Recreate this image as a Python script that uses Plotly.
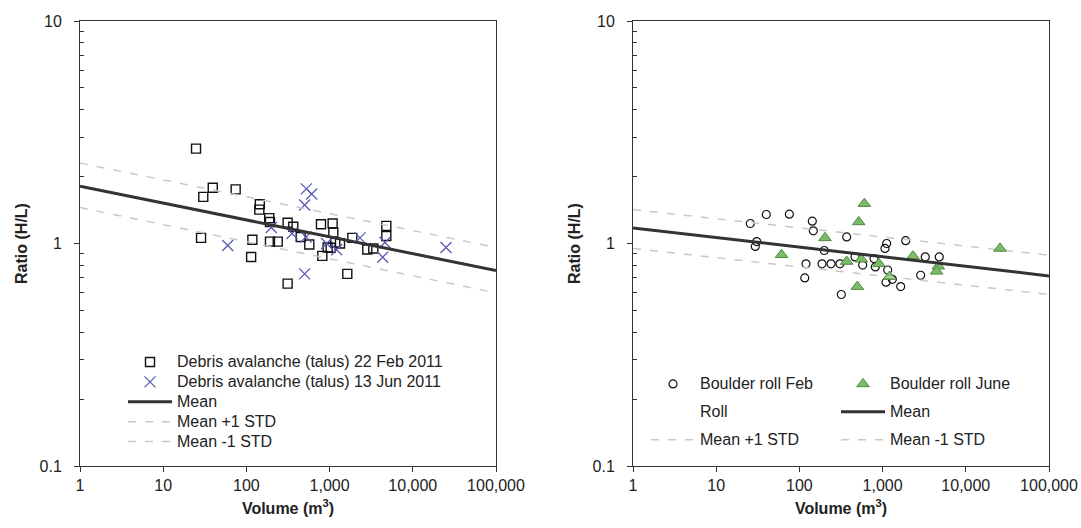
import plotly.graph_objects as go

# ---- Debris avalanche (talus) data ----
feb_vol = [24.8, 39.4, 30.3, 74.3, 145, 143, 188, 192, 28.5, 118, 192, 238, 114, 313, 366,
           449, 570, 313, 788, 1088, 1108, 818, 948, 1030, 1171, 1334, 1876, 1632, 2838,
           3351, 4806, 4806]
feb_ratio = [2.67, 1.78, 1.62, 1.75, 1.50, 1.42, 1.30, 1.25, 1.06, 1.04, 1.02, 1.02, 0.87,
             1.24, 1.19, 1.07, 0.99, 0.66, 1.22, 1.23, 1.12, 0.88, 0.96, 0.957, 1.01, 1.0,
             1.06, 0.73, 0.94, 0.95, 1.20, 1.08]
jun_vol = [525, 609, 501, 59.6, 199, 353, 520, 501, 923, 1217, 2317, 4345, 4635, 25060]
jun_ratio = [1.76, 1.67, 1.49, 0.98, 1.18, 1.11, 1.07, 0.73, 1.0, 0.937, 1.06, 0.868, 1.01, 0.959]

talus_fit_vol = [1, 100000]
talus_mean = [1.81, 0.756]
talus_plus = [2.30, 0.96]
talus_minus = [1.45, 0.60]

# ---- Boulder roll data ----
roll_feb_vol = [25.7, 40, 75.7, 143, 147, 30.7, 29.5, 370, 199, 120, 116, 187, 240, 307, 319,
                466, 576, 789, 818, 1069, 1119, 1151, 1099, 1309, 1650, 1893, 2867, 3257, 4797]
roll_feb_ratio = [1.23, 1.35, 1.355, 1.26, 1.14, 1.02, 0.97, 1.07, 0.93, 0.81, 0.70, 0.81, 0.81,
                  0.81, 0.59, 0.87, 0.80, 0.856, 0.785, 0.95, 1.0, 0.76, 0.67, 0.69, 0.64, 1.03,
                  0.72, 0.87, 0.87]
roll_jun_vol = [603, 516, 203, 61, 370, 555, 497, 906, 1205, 2317, 4676, 4467, 25770]
roll_jun_ratio = [1.51, 1.25, 1.06, 0.89, 0.83, 0.85, 0.64, 0.81, 0.71, 0.877, 0.79, 0.75, 0.95]

roll_fit_vol = [1, 100000]
roll_mean = [1.175, 0.715]
roll_plus = [1.42, 0.886]
roll_minus = [0.95, 0.59]

# ---- Axis ticks ----
x_tickvals = [1, 10, 100, 1000, 10000, 100000]
x_ticktext = ["1", "10", "100", "1,000", "10,000", "100,000"]
y_tickvals = [0.1, 1, 10]
y_ticktext = ["0.1", "1", "10"]
y_minor = [m * 10.0 ** e for e in (-1, 0) for m in range(2, 10)]

FONT = "Liberation Sans, Arial, sans-serif"
W, H = 1081, 528
STD_COLOR = "#c9c9c9"
XCOLOR = "#5a5ab4"


def lbl(text):
    # legend rows stay compact while the label itself is drawn larger
    return '<span style="font-size:16px">%s</span>' % text


fig = go.Figure()

# Left panel
fig.add_trace(go.Scatter(x=feb_vol, y=feb_ratio, mode="markers", name=lbl("Debris avalanche (talus) 22 Feb 2011"),
                         marker=dict(symbol="square-open", size=9, color="#111111", line=dict(width=1.4)),
                         xaxis="x", yaxis="y", legend="legend"))
fig.add_trace(go.Scatter(x=jun_vol, y=jun_ratio, mode="markers", name=lbl("Debris avalanche (talus) 13 Jun 2011"),
                         marker=dict(symbol="x-thin-open", size=11, color=XCOLOR, line=dict(width=1.3, color=XCOLOR)),
                         xaxis="x", yaxis="y", legend="legend"))
fig.add_trace(go.Scatter(x=talus_fit_vol, y=talus_mean, mode="lines", name=lbl("Mean"),
                         line=dict(color="#333333", width=3), xaxis="x", yaxis="y", legend="legend"))
fig.add_trace(go.Scatter(x=talus_fit_vol, y=talus_plus, mode="lines", name=lbl("Mean +1 STD"),
                         line=dict(color=STD_COLOR, width=1.5, dash="8px,9px"), xaxis="x", yaxis="y", legend="legend"))
fig.add_trace(go.Scatter(x=talus_fit_vol, y=talus_minus, mode="lines", name=lbl("Mean -1 STD"),
                         line=dict(color=STD_COLOR, width=1.5, dash="8px,9px"), xaxis="x", yaxis="y", legend="legend"))

# Right panel: legend column 1
fig.add_trace(go.Scatter(x=roll_feb_vol, y=roll_feb_ratio, mode="markers", name=lbl("Boulder roll Feb"),
                         marker=dict(symbol="circle-open", size=8, color="#111111", line=dict(width=1.2)),
                         xaxis="x2", yaxis="y2", legend="legend2", legendgroup="a1"))
fig.add_trace(go.Scatter(x=[None], y=[None], mode="markers", name=lbl("Roll"),
                         marker=dict(size=8, color="rgba(0,0,0,0)"),
                         xaxis="x2", yaxis="y2", legend="legend2", legendgroup="a2"))
fig.add_trace(go.Scatter(x=roll_fit_vol, y=roll_plus, mode="lines", name=lbl("Mean +1 STD"),
                         line=dict(color=STD_COLOR, width=1.5, dash="8px,9px"),
                         xaxis="x2", yaxis="y2", legend="legend2", legendgroup="a3"))
# Right panel: legend column 2
fig.add_trace(go.Scatter(x=roll_jun_vol, y=roll_jun_ratio, mode="markers", name=lbl("Boulder roll June"),
                         marker=dict(symbol="triangle-up", size=11, color="#7dbb6a",
                                     line=dict(width=1, color="#4d8a3e")),
                         xaxis="x2", yaxis="y2", legend="legend3", legendgroup="b1"))
fig.add_trace(go.Scatter(x=roll_fit_vol, y=roll_mean, mode="lines", name=lbl("Mean"),
                         line=dict(color="#333333", width=3),
                         xaxis="x2", yaxis="y2", legend="legend3", legendgroup="b2"))
fig.add_trace(go.Scatter(x=roll_fit_vol, y=roll_minus, mode="lines", name=lbl("Mean -1 STD"),
                         line=dict(color=STD_COLOR, width=1.5, dash="8px,9px"),
                         xaxis="x2", yaxis="y2", legend="legend3", legendgroup="b3"))

y_bot = (H - 466) / H
y_top = (H - 21) / H
xdom_left = [80 / W, 496 / W]
xdom_right = [633 / W, 1049 / W]


def xaxis_cfg(dom, anchor):
    return dict(type="log", range=[0, 5], domain=dom, anchor=anchor,
                tickmode="array", tickvals=x_tickvals, ticktext=x_ticktext,
                ticks="outside", ticklen=5, tickwidth=1, tickcolor="#333333",
                showline=True, linecolor="#333333", linewidth=1, mirror=True,
                showgrid=False, zeroline=False, automargin=False,
                tickfont=dict(family=FONT, size=16, color="#222222"),
                title=dict(text="<b>Volume (m<sup>3</sup>)</b>", standoff=9,
                           font=dict(family=FONT, size=16, color="#222222")))


def yaxis_cfg(anchor):
    return dict(type="log", range=[-1, 1], domain=[y_bot, y_top], anchor=anchor,
                tickmode="array", tickvals=y_tickvals, ticktext=y_ticktext,
                ticks="outside", ticklen=5, tickwidth=1, tickcolor="#333333",
                ticklabelstandoff=9,
                minor=dict(tickmode="array", tickvals=y_minor, ticks="inside", ticklen=4,
                           tickwidth=1, tickcolor="#333333", showgrid=False),
                showline=True, linecolor="#333333", linewidth=1, mirror=True,
                showgrid=False, zeroline=False, automargin=False,
                tickfont=dict(family=FONT, size=16, color="#222222"),
                title=dict(text="<b>Ratio (H/L)</b>", standoff=7,
                           font=dict(family=FONT, size=16, color="#222222")))


legend_common = dict(bgcolor="rgba(0,0,0,0)", borderwidth=0, xanchor="left", yanchor="top",
                     font=dict(family=FONT, size=13, color="#222222"), itemwidth=44,
                     itemclick=False, itemdoubleclick=False)

fig.update_layout(
    width=W, height=H,
    margin=dict(l=0, r=0, t=0, b=0),
    paper_bgcolor="white", plot_bgcolor="white",
    font=dict(family=FONT, size=13, color="#222222"),
    xaxis=xaxis_cfg(xdom_left, "y"),
    yaxis=yaxis_cfg("x"),
    xaxis2=xaxis_cfg(xdom_right, "y2"),
    yaxis2=yaxis_cfg("x2"),
    legend=dict(x=123 / W, y=(H - 347) / H, **legend_common),
    legend2=dict(x=646 / W, y=(H - 369) / H, traceorder="grouped", tracegroupgap=8, **legend_common),
    legend3=dict(x=836 / W, y=(H - 369) / H, traceorder="grouped", tracegroupgap=8, **legend_common),
    showlegend=True,
)

fig.write_html("out.html")
